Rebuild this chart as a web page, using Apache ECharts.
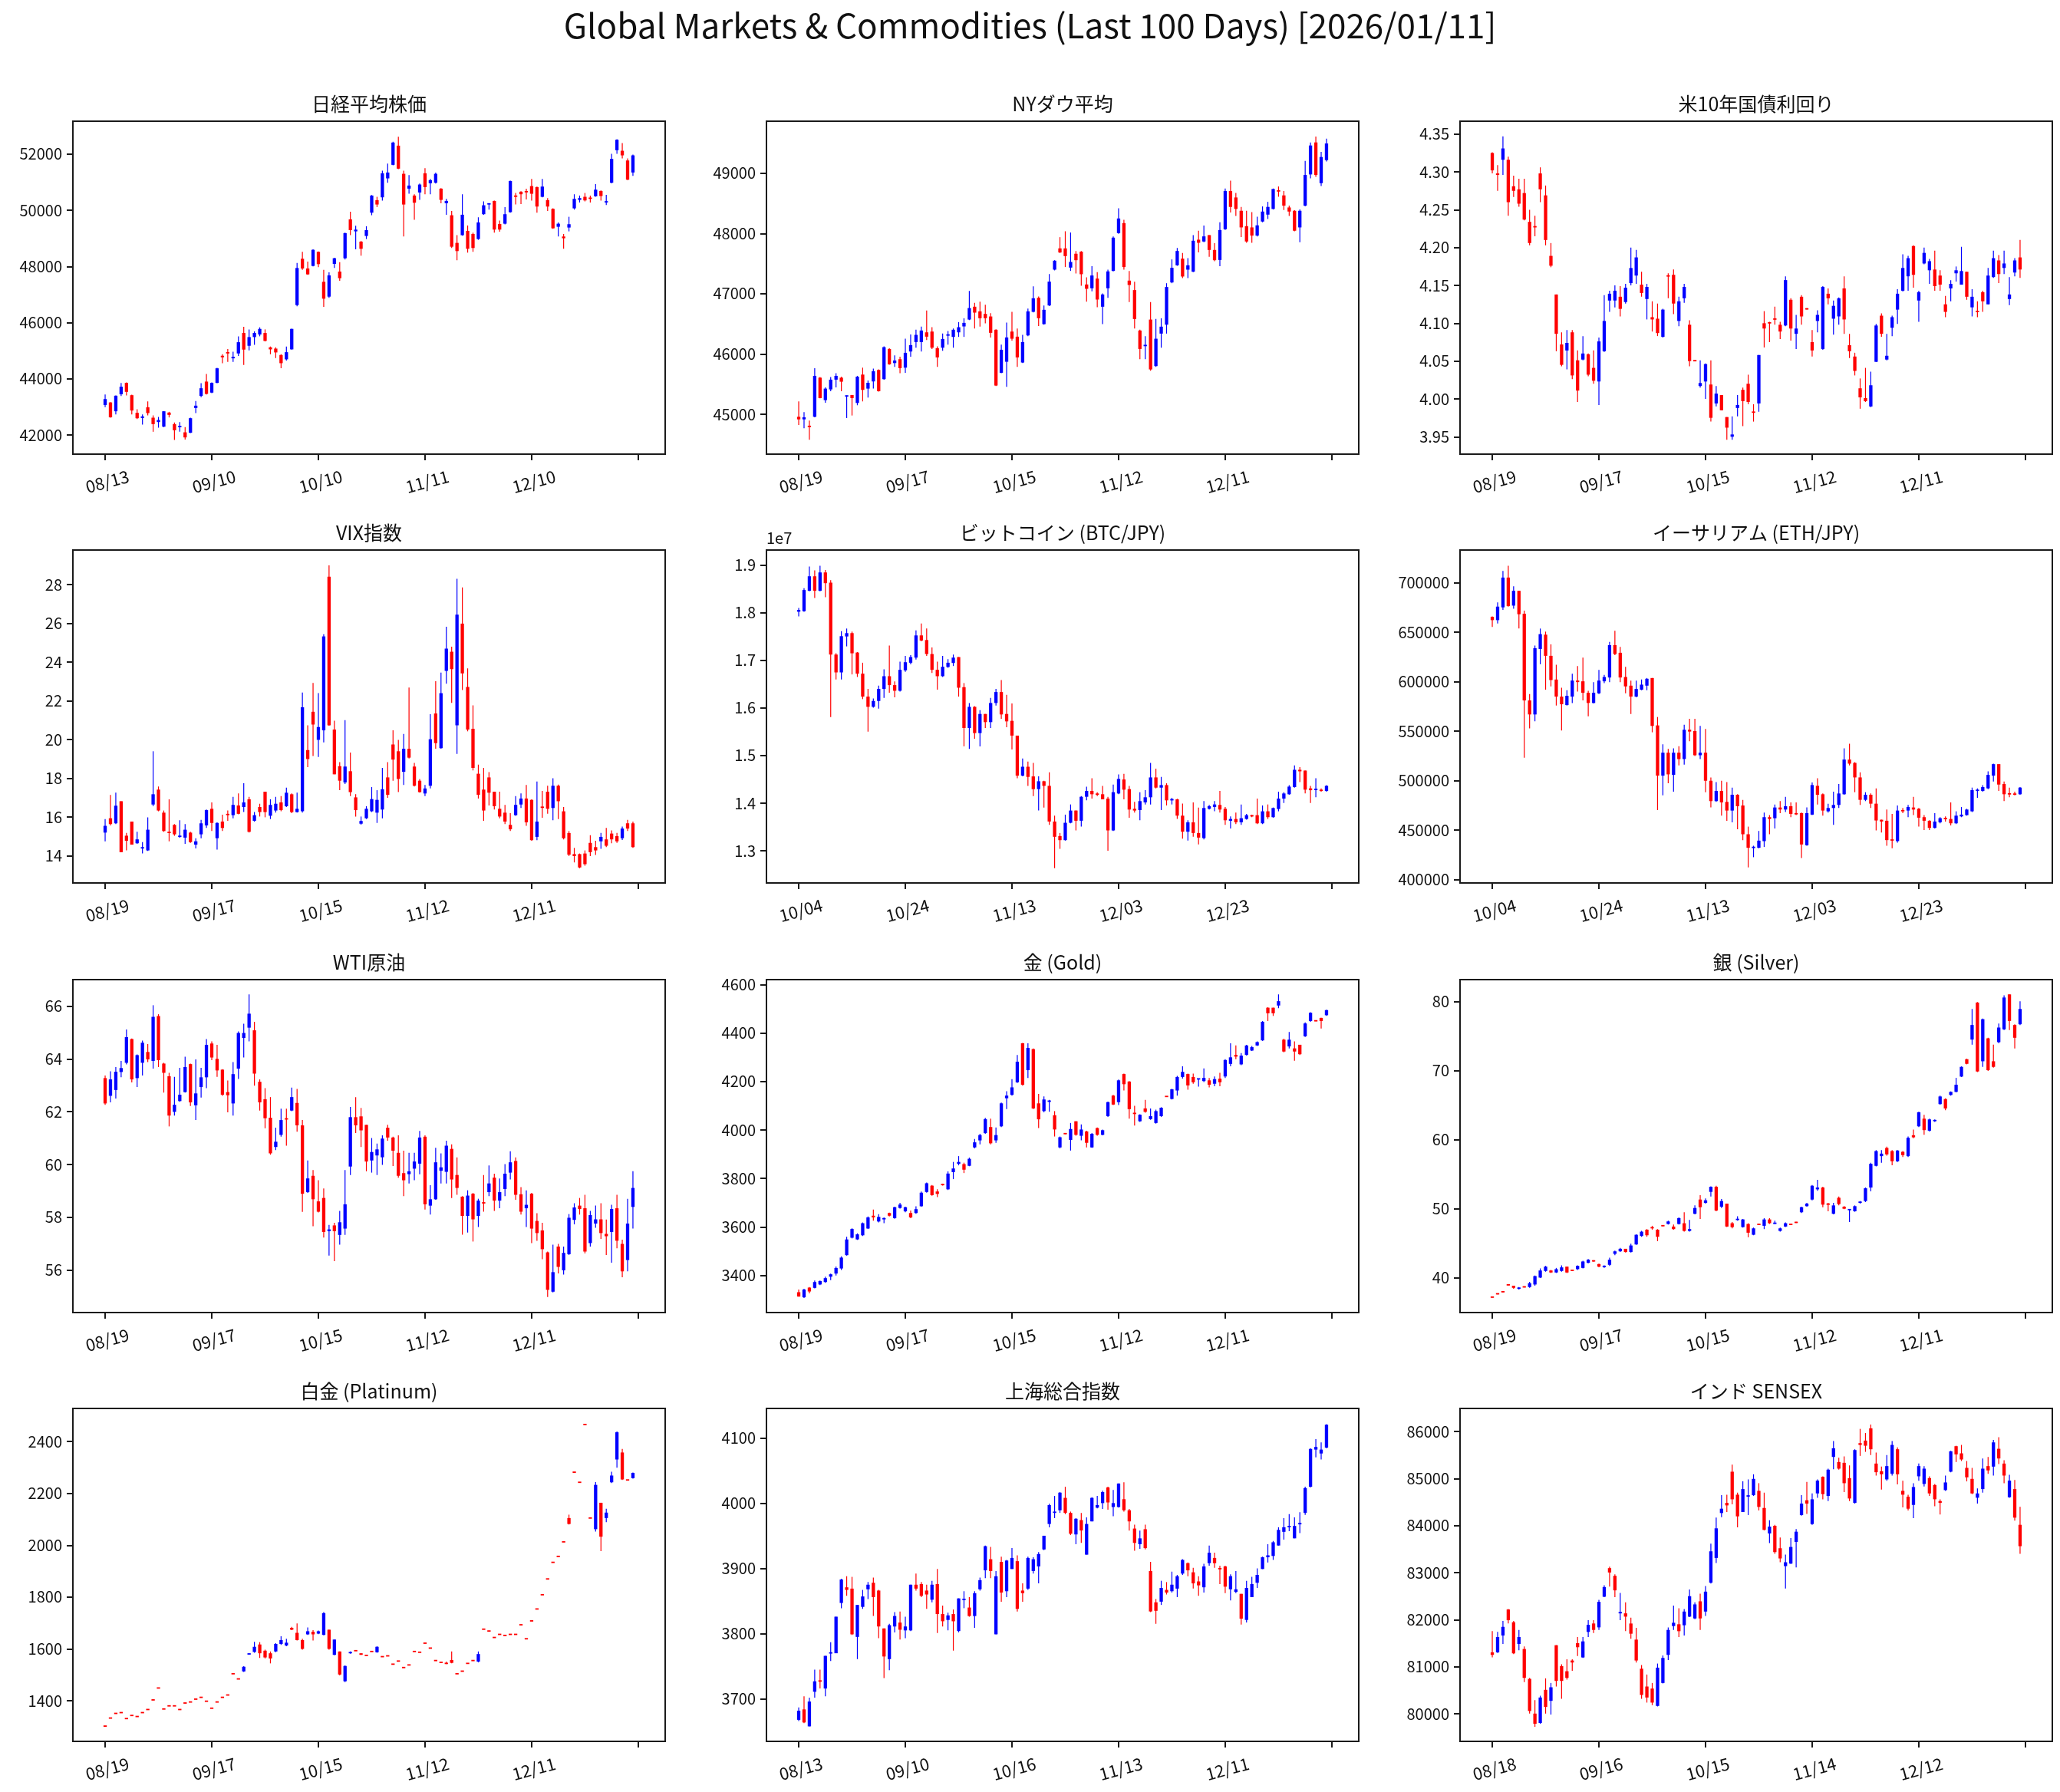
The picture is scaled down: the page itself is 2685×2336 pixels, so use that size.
<!DOCTYPE html>
<html><head><meta charset="utf-8">
<script src="https://cdn.jsdelivr.net/npm/echarts@6/dist/echarts.min.js"></script>
<style>html,body{margin:0;padding:0;background:#fff}#c{width:2685px;height:2336px}</style>
</head><body><div id="c"></div>
<script>
// ---------- DATA (each row: [Open, High, Low, Close]) ----------
const nikkeiOHLC = [
[43070,43440,42990,43280],[43160,43170,42620,42630],[42845,43410,42735,43400],[43450,43850,43390,43720],[43856,43875,43409,43537],
[43418,43437,42735,42872],[42790,42918,42571,42598],[42608,42735,42371,42663],[42990,43200,42699,42781],[42617,42699,42116,42389],
[42462,42644,42262,42535],[42298,42850,42280,42845],[42800,42826,42626,42717],[42389,42444,41824,42170],[42280,42462,42116,42325],
[42097,42280,41842,41915],[42080,42617,42070,42599],[42963,43210,42781,43045],[43391,43847,43346,43665],[43902,44175,43446,43464],
[43510,43875,43491,43856],[43856,44393,43847,44375],[44822,44876,44557,44767],[44950,45058,44603,44904],[44730,44968,44603,44785],
[44904,45514,44812,45304],[45632,45851,44493,45040],[45177,45760,45013,45486],[45486,45687,45213,45632],[45578,45833,45514,45778],
[45632,45760,45331,45350],[45122,45150,44876,45049],[45076,45122,44739,44940],[44849,44876,44375,44557],[44694,45150,44648,44949],
[45049,45787,45040,45778],[46625,48128,46580,47946],[48274,48520,47882,47928],[47928,48174,47700,47718],[48019,48611,48001,48593],
[48520,48538,47973,48083],[47454,47882,46561,46853],[46926,47791,46880,47682],[48092,48310,47946,48292],[47818,48156,47491,47582],
[48292,49203,48247,49185],[49677,49950,49112,49294],[49249,49449,48611,49312],[48884,48912,48383,48629],[49085,49431,48975,49294],
[49914,50542,49823,50524],[50360,50479,50114,50205],[50460,51408,50342,51317],[51135,51663,50980,51344],[51617,52437,51599,52410],
[52300,52620,51463,51481],[51298,51408,49067,50205],[50770,51253,50588,50880],[50524,50570,49659,50269],[50633,50952,50369,50916],
[51317,51499,50570,50825],[50961,51116,50570,51071],[50980,51344,50952,51298],[50770,50788,50251,50369],[50251,50406,49841,50333],
[49823,49978,48657,48702],[48839,49112,48219,48547],[49112,50570,49094,49841],[49267,49458,48492,48629],[49158,49203,48520,48657],
[48975,49750,48948,49568],[49860,50315,49841,50178],[50205,50251,50023,50251],[50333,50342,49203,49312],[49513,49631,49240,49312],
[49522,50114,49495,49860],[49932,51052,49914,51043],[50524,50615,50205,50479],[50661,50679,50224,50570],[50679,50770,50388,50643],
[50861,51116,50342,50588],[50825,50843,49914,50132],[50479,51116,50460,50843],[50360,50433,49978,50132],[50050,50068,49340,49358],
[49413,49568,49067,49522],[49067,49158,48629,49003],[49385,49768,49249,49504],[50068,50570,50023,50406],[50369,50524,50278,50433],
[50479,50615,50315,50351],[50451,50524,50278,50406],[50497,50934,50479,50734],[50688,50706,50342,50506],[50278,50552,50187,50324],
[50980,52009,50961,51827],[52137,52528,52009,52510],[52118,52392,51845,51954],[51772,51845,51071,51089],[51344,51982,51226,51954]];

const dowOHLC = [
[44958,45213,44822,44915],[44915,45034,44767,44949],[44809,44894,44576,44788],[44958,45765,44949,45637],[45607,45616,45264,45268],
[45234,45446,45191,45425],[45412,45616,45382,45574],[45574,45680,45446,45637],[45607,45624,45382,45540],[45302,45310,44937,45306],
[45319,45319,44979,45268],[45187,45637,45149,45624],[45658,45773,45213,45404],[45425,45561,45276,45522],[45544,45756,45425,45714],
[45735,45744,45374,45382],[45582,46126,45574,46113],[46083,46096,45820,45828],[45849,45977,45786,45892],[45913,45956,45680,45765],
[45773,46253,45688,46019],[46041,46325,45956,46147],[46198,46402,46104,46317],[46198,46453,46041,46389],[46359,46720,46232,46287],
[46372,46444,46083,46104],[46096,46126,45786,45943],[46104,46338,46053,46249],[46304,46380,46155,46325],[46283,46423,46104,46402],
[46359,46529,46283,46444],[46457,46593,46283,46516],[46571,47047,46563,46762],[46784,46848,46423,46686],[46707,46869,46453,46593],
[46665,46818,46508,46593],[46622,46677,46274,46351],[46402,46410,45467,45476],[45688,46155,45680,46070],[45871,46520,45455,46274],
[46372,46699,46223,46253],[46287,46423,45786,45943],[45858,46317,45849,46198],[46308,46754,46296,46707],[46699,47123,46690,46924],
[46932,46953,46465,46593],[46495,46805,46486,46733],[46805,47327,46796,47200],[47399,47556,47387,47548],[47752,47938,47675,47684],
[47752,48036,47442,47624],[47433,48015,47378,47527],[47663,47709,47336,47556],[47697,47709,47132,47323],[47153,47272,46869,47081],
[47090,47455,47038,47302],[47251,47357,46775,46903],[46784,47004,46495,46987],[47090,47399,46932,47370],[47378,47951,47370,47930],
[48006,48418,47993,48248],[48172,48227,47399,47442],[47217,47378,46860,47145],[47060,47200,46423,46580],[46389,46402,45913,46083],
[46134,46296,45913,46147],[46571,46860,45722,45743],[45799,46580,45786,46253],[46338,46593,46104,46453],[46486,47174,46338,47111],
[47187,47569,47174,47429],[47471,47760,47463,47709],[47582,47675,47259,47285],[47399,47590,47259,47471],[47365,47972,47357,47879],
[47896,48044,47684,47845],[47866,48130,47854,47951],[47972,47972,47612,47726],[47726,47837,47539,47556],[47560,48185,47455,48057],
[48070,48745,48057,48703],[48703,48877,48346,48440],[48597,48673,48291,48406],[48376,48440,47939,48100],[48121,48376,47845,47866],
[48100,48355,47845,47964],[47964,48278,47951,48134],[48197,48448,48185,48363],[48312,48524,48240,48440],[48406,48745,48397,48737],
[48716,48779,48609,48694],[48631,48703,48389,48461],[48431,48461,48291,48363],[48376,48384,48036,48045],[48100,48397,47854,48376],
[48461,49204,48448,48970],[48979,49510,48915,49459],[49510,49607,48940,48970],[48834,49352,48788,49268],[49217,49573,49195,49493]];

const us10yOHLC = [
[4.325,4.326,4.298,4.302],[4.298,4.309,4.275,4.296],[4.316,4.347,4.296,4.331],[4.316,4.320,4.242,4.260],[4.281,4.295,4.267,4.275],
[4.277,4.291,4.254,4.258],[4.272,4.291,4.236,4.237],[4.234,4.250,4.203,4.206],[4.228,4.242,4.215,4.227],[4.298,4.306,4.260,4.277],
[4.269,4.282,4.203,4.210],[4.189,4.206,4.174,4.176],[4.138,4.138,4.063,4.086],[4.072,4.088,4.043,4.045],[4.064,4.091,4.039,4.074],
[4.088,4.091,4.026,4.031],[4.051,4.064,3.996,4.011],[4.052,4.083,4.051,4.060],[4.059,4.060,4.030,4.032],[4.041,4.064,4.020,4.024],
[4.023,4.081,3.992,4.076],[4.063,4.137,4.062,4.103],[4.130,4.143,4.115,4.139],[4.130,4.150,4.121,4.143],[4.135,4.149,4.109,4.119],
[4.128,4.152,4.126,4.147],[4.153,4.200,4.150,4.173],[4.163,4.197,4.152,4.187],[4.151,4.168,4.135,4.140],[4.132,4.152,4.105,4.148],
[4.108,4.129,4.089,4.105],[4.106,4.126,4.083,4.087],[4.082,4.119,4.081,4.118],[4.163,4.166,4.133,4.162],[4.164,4.171,4.112,4.126],
[4.103,4.135,4.096,4.129],[4.133,4.152,4.127,4.148],[4.098,4.104,4.043,4.050],[4.051,4.051,4.050,4.050],[4.017,4.051,4.015,4.021],
[4.023,4.047,4.000,4.046],[4.019,4.051,3.970,3.975],[3.994,4.017,3.990,4.007],[4.005,4.005,3.985,3.985],[3.976,3.976,3.946,3.962],
[3.950,3.977,3.946,3.953],[3.988,4.005,3.977,3.992],[4.012,4.015,3.964,3.997],[4.020,4.032,3.993,3.996],[3.983,3.993,3.970,3.982],
[3.994,4.058,3.983,4.058],[4.100,4.116,4.068,4.093],[4.101,4.102,4.075,4.100],[4.106,4.122,4.098,4.105],[4.098,4.102,4.079,4.089],
[4.097,4.162,4.096,4.157],[4.131,4.133,4.077,4.093],[4.086,4.111,4.066,4.093],[4.135,4.137,4.098,4.109],[4.119,4.120,4.118,4.119],
[4.075,4.091,4.056,4.064],[4.103,4.117,4.088,4.111],[4.066,4.149,4.065,4.148],[4.139,4.146,4.125,4.133],[4.106,4.130,4.085,4.123],
[4.109,4.134,4.098,4.133],[4.146,4.162,4.086,4.105],[4.071,4.086,4.054,4.063],[4.056,4.061,4.031,4.037],[4.014,4.027,3.987,4.002],
[4.001,4.041,3.996,3.997],[3.990,4.036,3.989,4.018],[4.049,4.099,4.049,4.097],[4.110,4.113,4.082,4.086],[4.052,4.086,4.051,4.057],
[4.094,4.110,4.083,4.108],[4.118,4.145,4.099,4.139],[4.143,4.191,4.142,4.173],[4.162,4.189,4.143,4.186],[4.202,4.203,4.147,4.164],
[4.130,4.143,4.102,4.141],[4.179,4.200,4.178,4.193],[4.170,4.185,4.152,4.182],[4.171,4.196,4.143,4.149],[4.163,4.170,4.143,4.151],
[4.125,4.136,4.108,4.115],[4.146,4.157,4.129,4.152],[4.166,4.175,4.155,4.170],[4.151,4.201,4.151,4.169],[4.168,4.168,4.131,4.135],
[4.121,4.145,4.109,4.135],[4.116,4.129,4.108,4.115],[4.141,4.143,4.115,4.129],[4.125,4.173,4.125,4.163],[4.161,4.196,4.160,4.186],
[4.183,4.190,4.153,4.165],[4.173,4.196,4.165,4.179],[4.132,4.161,4.124,4.138],[4.167,4.186,4.162,4.183],[4.187,4.210,4.160,4.171]];

const vixOHLC = [
[15.19,15.89,14.74,15.54],[15.93,17.14,15.56,15.63],[15.67,17.25,15.63,16.58],[16.81,16.81,14.18,14.18],[15.03,15.17,14.27,14.77],
[15.76,15.76,14.57,14.57],[14.64,15.23,14.61,14.84],[14.37,14.70,14.11,14.44],[14.27,15.98,14.24,15.34],[16.64,19.39,16.55,17.17],
[17.41,17.57,16.29,16.33],[16.22,16.33,15.23,15.27],[15.23,16.91,14.74,15.17],[15.59,15.63,15.03,15.10],[14.97,15.83,14.93,15.03],
[14.93,15.63,14.61,15.34],[15.19,15.23,14.66,14.70],[14.57,14.90,14.37,14.74],[15.10,15.85,14.90,15.67],[15.56,16.38,15.43,16.35],
[16.42,16.75,15.27,15.69],[14.90,15.72,14.31,15.69],[15.76,16.12,15.27,15.43],[16.16,16.33,15.80,16.09],[16.09,17.04,15.93,16.62],
[16.59,17.21,16.13,16.16],[16.51,17.74,16.25,16.75],[16.91,17.04,15.19,15.23],[15.80,16.25,15.76,16.09],[16.51,16.68,16.02,16.25],
[17.30,17.30,15.98,16.25],[16.06,16.91,15.89,16.62],[16.33,17.04,16.22,16.68],[16.75,17.08,16.29,16.35],[16.55,17.51,16.51,17.25],
[17.17,17.21,16.19,16.25],[16.25,17.25,16.22,16.42],[16.29,22.42,16.22,21.66],[19.45,20.73,18.57,18.99],[21.43,22.92,19.15,20.77],
[19.98,22.39,19.10,20.64],[20.47,25.43,19.85,25.32],[28.40,28.99,20.71,20.73],[20.51,20.97,18.20,18.20],[18.62,18.83,17.38,17.87],
[17.78,21.00,17.70,18.60],[18.36,19.32,17.08,17.28],[17.01,17.17,16.02,16.35],[15.65,16.02,15.60,15.79],[15.93,16.55,15.89,16.42],
[16.29,17.54,16.25,16.92],[16.22,17.38,15.69,16.88],[16.38,18.53,15.93,17.43],[18.04,18.83,16.99,17.14],[19.74,20.47,17.87,18.96],
[19.39,19.98,17.28,17.96],[18.33,20.28,17.65,19.52],[19.52,22.68,19.02,19.06],[18.60,18.79,17.57,17.61],[17.87,17.96,17.25,17.28],
[17.21,17.65,17.08,17.47],[17.61,21.30,17.47,20.01],[21.34,23.01,19.52,19.81],[19.55,23.45,19.52,22.39],[23.54,25.82,22.88,24.69],
[24.53,24.79,21.89,23.63],[20.73,28.29,19.25,26.44],[25.98,27.85,22.55,23.41],[22.71,23.67,20.42,20.51],[20.55,21.76,18.40,18.53],
[18.23,18.70,16.95,17.14],[17.41,18.53,15.80,16.33],[18.04,18.31,16.59,17.25],[17.30,17.30,16.38,16.55],[16.42,17.30,15.93,16.02],
[16.22,16.62,15.63,15.76],[15.59,16.19,15.27,15.36],[16.09,17.08,16.06,16.62],[16.64,17.21,16.46,16.95],[16.95,17.65,15.54,15.72],
[16.88,16.91,14.77,14.80],[14.97,17.83,14.80,15.76],[16.51,17.34,15.96,16.49],[17.30,17.61,16.16,16.42],[16.46,18.00,15.83,17.61],
[17.61,17.67,15.89,16.81],[16.29,16.51,14.84,14.90],[15.17,15.27,13.98,14.05],[14.08,14.40,13.65,13.98],[14.08,14.11,13.35,13.39],
[14.11,14.27,13.48,13.56],[14.66,15.06,13.98,14.18],[14.44,14.77,14.04,14.27],[14.74,15.17,14.35,14.97],[14.84,15.43,14.44,14.51],
[15.14,15.30,14.64,14.84],[15.01,15.17,14.66,14.74],[14.90,15.50,14.81,15.40],[15.67,15.85,15.27,15.40],[15.67,15.76,14.40,14.44]];

const btcOHLC = [
[1.8016e7,1.8096e7,1.7920e7,1.8053e7],[1.8027e7,1.8508e7,1.8016e7,1.8471e7],[1.8455e7,1.8963e7,1.8444e7,1.8759e7],[1.8759e7,1.8882e7,1.8305e7,1.8455e7],[1.8455e7,1.8979e7,1.8444e7,1.8840e7],
[1.8840e7,1.8893e7,1.8321e7,1.8615e7],[1.8626e7,1.8679e7,1.5807e7,1.7117e7],[1.7117e7,1.7144e7,1.6593e7,1.6743e7],[1.6743e7,1.7610e7,1.6593e7,1.7503e7],[1.7497e7,1.7663e7,1.7289e7,1.7567e7],
[1.7567e7,1.7599e7,1.6700e7,1.7144e7],[1.7160e7,1.7171e7,1.6647e7,1.6716e7],[1.6716e7,1.6946e7,1.6182e7,1.6235e7],[1.6235e7,1.6396e7,1.5502e7,1.6021e7],[1.6021e7,1.6198e7,1.6005e7,1.6144e7],
[1.6144e7,1.6465e7,1.5984e7,1.6396e7],[1.6396e7,1.6807e7,1.6208e7,1.6663e7],[1.6663e7,1.7305e7,1.6315e7,1.6476e7],[1.6476e7,1.6556e7,1.6219e7,1.6358e7],[1.6358e7,1.6968e7,1.6342e7,1.6797e7],
[1.6786e7,1.7091e7,1.6754e7,1.6957e7],[1.6946e7,1.7107e7,1.6914e7,1.7064e7],[1.7053e7,1.7626e7,1.7011e7,1.7519e7],[1.7519e7,1.7770e7,1.7396e7,1.7412e7],[1.7422e7,1.7663e7,1.7091e7,1.7128e7],
[1.7128e7,1.7267e7,1.6732e7,1.6797e7],[1.6797e7,1.6968e7,1.6380e7,1.6663e7],[1.6663e7,1.7091e7,1.6647e7,1.6861e7],[1.6856e7,1.7021e7,1.6839e7,1.6946e7],[1.6941e7,1.7117e7,1.6877e7,1.7053e7],
[1.7064e7,1.7064e7,1.6235e7,1.6422e7],[1.6433e7,1.6519e7,1.5192e7,1.5577e7],[1.5577e7,1.6101e7,1.5139e7,1.6021e7],[1.6021e7,1.6037e7,1.5353e7,1.5470e7],[1.5470e7,1.5952e7,1.5192e7,1.5871e7],
[1.5871e7,1.5871e7,1.5577e7,1.5700e7],[1.5700e7,1.6208e7,1.5577e7,1.6101e7],[1.6101e7,1.6396e7,1.6048e7,1.6331e7],[1.6331e7,1.6583e7,1.5770e7,1.5861e7],[1.5871e7,1.6273e7,1.5593e7,1.5716e7],
[1.5727e7,1.6091e7,1.5128e7,1.5417e7],[1.5417e7,1.5417e7,1.4524e7,1.4577e7],[1.4577e7,1.4936e7,1.4561e7,1.4764e7],[1.4764e7,1.4871e7,1.4363e7,1.4551e7],[1.4561e7,1.4845e7,1.4149e7,1.4294e7],
[1.4294e7,1.4561e7,1.3845e7,1.4460e7],[1.4460e7,1.4470e7,1.3909e7,1.4363e7],[1.4363e7,1.4647e7,1.3545e7,1.3615e7],[1.3615e7,1.3738e7,1.2636e7,1.3294e7],[1.3310e7,1.3374e7,1.3042e7,1.3224e7],
[1.3224e7,1.3759e7,1.3214e7,1.3588e7],[1.3588e7,1.3973e7,1.3577e7,1.3845e7],[1.3845e7,1.3845e7,1.3428e7,1.3631e7],[1.3631e7,1.4149e7,1.3508e7,1.4134e7],[1.4134e7,1.4347e7,1.4059e7,1.4256e7],
[1.4256e7,1.4524e7,1.4096e7,1.4187e7],[1.4203e7,1.4230e7,1.4149e7,1.4176e7],[1.4187e7,1.4363e7,1.4080e7,1.4080e7],[1.4096e7,1.4134e7,1.3000e7,1.3428e7],[1.3428e7,1.4390e7,1.3417e7,1.4230e7],
[1.4203e7,1.4604e7,1.4187e7,1.4508e7],[1.4497e7,1.4615e7,1.4080e7,1.4283e7],[1.4294e7,1.4363e7,1.3695e7,1.3866e7],[1.3882e7,1.4027e7,1.3802e7,1.3845e7],[1.3855e7,1.4230e7,1.3641e7,1.4043e7],
[1.4016e7,1.4272e7,1.3973e7,1.4123e7],[1.4123e7,1.4845e7,1.3973e7,1.4540e7],[1.4540e7,1.4722e7,1.4310e7,1.4326e7],[1.4326e7,1.4551e7,1.3855e7,1.4379e7],[1.4379e7,1.4417e7,1.3952e7,1.4059e7],
[1.4064e7,1.4112e7,1.3973e7,1.4080e7],[1.4080e7,1.4091e7,1.3668e7,1.3738e7],[1.3738e7,1.3990e7,1.3256e7,1.3401e7],[1.3401e7,1.3641e7,1.3214e7,1.3598e7],[1.3598e7,1.4016e7,1.3294e7,1.3374e7],
[1.3374e7,1.3909e7,1.3133e7,1.3278e7],[1.3267e7,1.4043e7,1.3240e7,1.3898e7],[1.3882e7,1.3962e7,1.3866e7,1.3936e7],[1.3920e7,1.4043e7,1.3829e7,1.3973e7],[1.3963e7,1.4256e7,1.3802e7,1.3866e7],
[1.3882e7,1.3920e7,1.3545e7,1.3641e7],[1.3631e7,1.3722e7,1.3470e7,1.3668e7],[1.3668e7,1.3802e7,1.3561e7,1.3599e7],[1.3599e7,1.3973e7,1.3545e7,1.3684e7],[1.3668e7,1.3775e7,1.3652e7,1.3748e7],
[1.3748e7,1.3759e7,1.3706e7,1.3722e7],[1.3748e7,1.4096e7,1.3561e7,1.3577e7],[1.3577e7,1.3952e7,1.3561e7,1.3829e7],[1.3829e7,1.3973e7,1.3668e7,1.3706e7],[1.3706e7,1.3909e7,1.3695e7,1.3898e7],
[1.3877e7,1.4240e7,1.3829e7,1.4096e7],[1.4096e7,1.4230e7,1.4005e7,1.4203e7],[1.4187e7,1.4379e7,1.4176e7,1.4347e7],[1.4337e7,1.4791e7,1.4326e7,1.4700e7],[1.4700e7,1.4754e7,1.4444e7,1.4668e7],
[1.4684e7,1.4684e7,1.4203e7,1.4283e7],[1.4310e7,1.4363e7,1.4005e7,1.4272e7],[1.4283e7,1.4524e7,1.4123e7,1.4294e7],[1.4283e7,1.4310e7,1.4240e7,1.4256e7],[1.4256e7,1.4379e7,1.4240e7,1.4363e7]];

const ethOHLC = [
[665500,666010,655200,662150],[662150,680170,658800,675800],[675020,711850,672450,705150],[705150,716990,675790,676310],[676820,696390,673730,691760],
[691760,691760,653650,668070],[668580,671680,523100,581040],[581040,587480,552710,566870],[566870,636400,559920,633820],[633050,653650,617600,647990],
[647470,650560,591850,626100],[626100,637680,595200,601640],[602150,617090,575890,584900],[584900,593910,550650,577170],[576400,591330,575890,585670],
[584900,608070,578460,601120],[601120,615800,590050,599570],[600350,624300,581040,588760],[588760,590820,565070,578460],[578460,599570,577950,588760],
[588240,611930,587480,601120],[600350,606780,598540,604720],[604210,640260,599570,636920],[636920,651330,626870,627900],[629190,635110,599570,604210],
[604720,615030,588240,595200],[595970,601120,567390,584900],[584900,601120,584130,592620],[591850,602150,591330,597000],[595970,603690,591330,602920],
[603690,603690,548850,555290],[555800,564300,470300,505070],[505070,536740,485240,528240],[528240,532110,497340,506360],[505840,532630,488850,528240],
[528240,534690,515370,521810],[521810,556570,516140,551420],[551420,562500,539840,549620],[550140,562500,524900,525670],[525670,555290,521810,528240],
[528240,552190,488330,499930],[499930,503270,472890,479330],[479330,498640,478550,489630],[489630,499930,464650,478030],[478550,498640,459500,469790],
[469790,492980,457950,485760],[485760,486270,450980,474170],[474940,480610,439930,445850],[445850,453560,412380,432200],[432200,434270,422680,432980],
[432200,449200,431690,439410],[438900,467740,432980,463100],[463100,465170,445850,461300],[462070,475970,451760,472890],[472890,479330,467220,470830],
[470830,483700,468250,474170],[474170,478030,463100,466450],[467220,478030,465170,465940],[467220,467740,421900,435550],[434780,472890,434270,467220],
[465680,498120,465170,495550],[494770,502500,475970,485760],[486270,487050,464650,469790],[469020,476750,467730,472370],[472370,488850,455380,475460],
[475460,496580,472370,487050],[486270,532630,485760,521290],[521290,537260,515370,517170],[517950,518720,488330,503270],[503270,508420,475460,480610],
[480610,488330,479330,485760],[485760,487050,472370,476750],[476750,492210,449710,459760],[460530,460530,447650,458720],[459500,470830,434270,439930],
[440700,466450,431690,439410],[438900,474940,437350,469790],[470300,472370,467220,469020],[469790,475460,463100,473400],[472890,483700,465170,470830],
[471600,472370,453560,462590],[463100,465170,450210,459500],[459500,460020,450210,452280],[452280,467220,451760,458720],[457950,463100,456920,462070],
[462070,463870,458720,461300],[461300,478030,454860,456920],[456920,469020,456150,464650],[463870,473400,463100,465680],[465170,471600,464650,470830],
[469020,492980,468250,490400],[489630,492210,482670,490910],[489630,495550,488850,493490],[492210,509450,491430,505840],[505070,517170,499160,516660],
[516660,516660,489630,496060],[496580,499160,479330,486270],[487050,492980,483180,486270],[487050,488850,485240,485760],[486270,493490,485760,492980]];

const wtiOHLC = [
[63.27,63.37,62.26,62.31],[62.60,63.53,62.35,63.22],[62.82,63.69,62.50,63.51],[63.50,63.92,63.30,63.65],[63.85,65.11,63.79,64.82],
[64.75,64.77,63.11,63.22],[63.27,64.17,62.93,64.14],[63.85,64.69,63.37,64.61],[64.26,64.56,63.88,63.98],[63.92,66.03,63.63,65.59],
[65.62,65.69,63.69,63.95],[63.82,63.85,62.72,63.47],[63.34,63.47,61.44,61.85],[61.99,63.32,61.85,62.26],[62.40,63.66,62.37,62.64],
[62.74,64.08,62.72,63.69],[63.80,63.82,62.21,62.35],[62.24,63.98,61.68,62.69],[62.93,63.66,62.53,63.30],[63.30,64.75,62.89,64.53],
[64.58,64.66,63.95,64.05],[64.00,64.53,63.32,63.56],[63.59,63.61,62.60,62.64],[62.74,63.18,61.97,62.62],[62.31,63.88,61.85,63.42],
[63.63,65.04,63.24,64.98],[64.79,65.33,64.05,64.98],[65.18,66.44,64.66,65.71],[65.08,65.40,62.98,63.44],[63.13,63.22,62.04,62.35],
[62.47,62.89,61.37,61.75],[61.77,62.55,60.37,60.42],[60.66,61.39,60.54,60.86],[61.12,62.11,61.05,61.68],[61.74,62.11,60.71,61.71],
[62.04,62.91,62.02,62.55],[62.33,62.86,61.24,61.48],[61.48,61.68,58.20,58.89],[58.95,60.15,58.92,59.47],[59.57,59.79,57.66,58.68],
[58.60,59.40,58.18,58.21],[58.73,59.09,57.23,57.44],[57.47,57.71,56.55,57.54],[57.69,57.79,56.34,57.47],[57.33,58.24,56.96,57.81],
[57.57,59.79,57.33,58.49],[59.92,62.18,59.60,61.79],[61.79,62.55,61.19,61.48],[61.82,62.14,60.66,61.29],[61.50,61.50,59.74,60.11],
[60.15,61.00,59.69,60.47],[60.34,60.79,59.60,60.57],[60.27,61.10,59.98,60.98],[61.39,61.50,60.90,61.02],[61.02,61.05,59.94,60.52],
[60.44,61.10,59.50,59.57],[59.67,60.52,58.80,59.40],[59.63,60.44,59.28,59.74],[59.84,60.44,59.40,60.11],[60.03,61.27,59.63,61.02],
[61.05,61.10,58.29,58.49],[58.44,59.21,58.10,58.68],[58.68,60.63,58.66,60.08],[59.76,60.42,59.28,59.89],[59.72,60.90,59.28,60.71],
[60.59,60.76,58.73,59.43],[59.60,60.27,58.85,59.11],[58.78,58.80,57.34,58.05],[58.05,59.02,57.42,58.82],[58.89,58.92,57.08,57.92],
[58.05,58.70,57.63,58.63],[58.56,59.60,58.21,58.53],[58.95,59.96,58.80,59.28],[59.50,59.65,58.24,58.63],[58.63,59.47,58.34,58.95],
[59.07,60.01,58.80,59.65],[59.69,60.50,59.43,60.08],[60.13,60.27,58.66,58.85],[58.87,59.14,58.10,58.21],[58.34,59.02,57.63,58.47],
[58.89,58.92,57.02,57.57],[57.86,58.15,57.11,57.40],[57.50,57.79,56.41,56.79],[56.67,56.70,54.98,55.25],[55.18,56.96,55.15,55.92],
[56.89,56.99,55.87,56.12],[55.99,56.89,55.83,56.65],[56.60,58.12,56.57,57.98],[57.90,58.53,57.73,58.37],[58.44,58.73,58.10,58.31],
[58.34,58.85,56.63,56.70],[57.02,58.24,56.89,58.08],[57.76,58.44,57.60,57.92],[57.92,58.53,57.18,57.40],[57.37,57.91,56.57,57.28],
[57.44,58.47,56.28,58.31],[58.34,58.85,56.82,57.11],[56.99,57.15,55.73,55.95],[56.38,58.70,55.95,57.76],[58.39,59.74,57.57,59.11]];

const goldOHLC = [
[3330,3341,3312,3312],[3309,3344,3306,3341],[3349,3351,3325,3333],[3348,3378,3346,3372],[3362,3378,3359,3376],
[3372,3394,3369,3388],[3394,3407,3380,3404],[3407,3436,3399,3430],[3428,3478,3422,3473],[3483,3559,3481,3548],
[3555,3594,3552,3591],[3548,3573,3546,3569],[3565,3618,3562,3615],[3593,3643,3591,3639],[3646,3671,3625,3639],
[3622,3652,3618,3641],[3631,3639,3615,3636],[3657,3659,3643,3646],[3636,3683,3633,3681],[3678,3699,3675,3692],
[3664,3683,3660,3681],[3657,3667,3636,3639],[3657,3685,3654,3673],[3685,3746,3683,3741],[3744,3783,3741,3780],
[3770,3773,3728,3731],[3746,3755,3723,3736],[3776,3778,3770,3773],[3755,3829,3752,3820],[3826,3868,3797,3841],
[3860,3892,3854,3868],[3859,3865,3822,3836],[3852,3886,3850,3881],[3928,3963,3924,3949],[3957,3984,3941,3979],
[3987,4050,3984,4045],[4012,4047,3941,3945],[3957,4010,3947,3979],[4015,4113,4012,4110],[4131,4160,4086,4142],
[4145,4210,4142,4176],[4197,4310,4194,4282],[4358,4360,4183,4187],[4247,4358,4215,4339],[4334,4337,4086,4089],
[4110,4149,4008,4044],[4078,4139,4073,4126],[4117,4124,4075,4121],[4061,4078,3973,4002],[3928,3973,3924,3970],
[3986,3986,3983,3984],[3959,4029,3915,4004],[4036,4036,3976,3980],[3976,4023,3957,4002],[3994,3997,3928,3947],
[3928,3987,3926,3984],[4008,4010,3976,3980],[3980,4002,3978,3999],[4057,4117,4054,4115],[4142,4145,4103,4105],
[4115,4208,4103,4205],[4231,4233,4163,4189],[4200,4202,4047,4086],[4070,4100,4018,4067],[4036,4065,4033,4063],
[4089,4124,4071,4075],[4045,4089,4042,4057],[4029,4084,4026,4078],[4057,4094,4054,4092],[4139,4139,4137,4138],
[4128,4170,4126,4168],[4163,4223,4142,4219],[4219,4263,4212,4240],[4231,4233,4166,4184],[4219,4233,4191,4197],
[4210,4212,4179,4212],[4202,4254,4198,4215],[4205,4215,4176,4187],[4191,4221,4181,4210],[4212,4236,4181,4197],
[4221,4292,4215,4289],[4273,4358,4263,4300],[4310,4349,4292,4303],[4271,4318,4268,4307],[4310,4352,4307,4349],
[4328,4347,4326,4342],[4349,4366,4347,4363],[4370,4450,4368,4447],[4505,4507,4450,4482],[4505,4505,4471,4482],
[4514,4560,4503,4532],[4373,4377,4321,4324],[4345,4405,4337,4373],[4337,4366,4286,4324],[4352,4352,4310,4313],
[4387,4444,4384,4440],[4450,4486,4447,4484],[4452,4452,4449,4450],[4463,4463,4419,4450],[4474,4497,4471,4495]];

const silverOHLC = [
[37.23,37.25,37.10,37.12],[37.71,37.73,37.58,37.60],[38.00,38.02,37.88,37.90],[39.00,39.02,38.88,38.90],[38.82,38.82,38.38,38.52],
[38.38,38.63,38.27,38.56],[38.71,38.73,38.58,38.60],[38.63,39.37,38.52,39.19],[39.00,40.30,38.82,40.22],[40.00,41.33,39.93,41.03],
[40.96,41.70,40.85,41.59],[41.03,41.11,40.67,40.74],[40.74,41.40,40.67,41.22],[40.96,41.77,40.85,41.48],[41.59,41.59,40.67,40.74],
[41.11,41.13,40.98,41.00],[41.22,41.77,41.11,41.70],[41.40,42.44,41.33,42.33],[42.14,42.70,42.07,42.59],[42.51,42.53,42.31,42.33],
[41.96,42.03,41.48,41.59],[41.55,41.77,41.40,41.70],[41.85,42.88,41.70,42.59],[43.44,43.92,43.25,43.80],[43.81,44.29,43.70,44.17],
[44.17,44.17,43.62,43.70],[43.70,44.91,43.62,44.65],[44.80,46.28,44.73,46.20],[46.02,46.76,45.91,46.65],[46.94,47.02,45.91,46.13],
[47.31,47.50,46.94,47.13],[46.94,47.02,45.28,45.91],[47.57,47.59,47.44,47.46],[47.76,48.24,47.68,48.13],[47.39,47.68,46.94,47.02],
[47.76,48.72,47.68,48.61],[47.87,49.46,46.65,46.76],[46.76,48.35,46.65,47.02],[49.24,50.45,49.16,50.08],[51.30,51.93,48.50,50.19],
[50.82,51.45,50.71,51.19],[52.41,53.22,51.75,53.15],[53.15,53.30,49.60,49.71],[50.27,51.38,50.08,51.08],[50.71,50.71,47.31,47.39],
[47.87,48.05,47.13,47.31],[48.35,48.87,48.24,48.50],[47.31,48.50,47.24,48.42],[47.76,47.87,45.84,46.50],[46.20,47.24,46.13,47.13],
[47.76,47.78,47.63,47.65],[47.50,48.61,47.02,48.42],[48.42,48.61,47.76,47.87],[47.79,48.24,47.76,47.94],[46.76,47.24,46.65,47.13],
[47.39,47.98,47.31,47.87],[47.76,47.78,47.63,47.65],[48.05,48.07,47.92,47.94],[49.46,50.27,49.35,50.19],[50.34,50.82,50.27,50.71],
[51.30,53.41,51.19,53.30],[52.78,54.15,52.56,53.04],[53.04,53.15,50.19,50.56],[50.71,50.82,49.60,50.56],[49.24,50.82,49.16,50.45],
[51.56,51.75,50.45,50.64],[50.27,50.34,49.90,49.97],[49.79,49.90,48.05,49.90],[49.60,50.45,49.53,50.34],[50.82,51.08,50.71,51.01],
[51.08,53.04,50.93,52.93],[53.04,56.62,52.48,56.47],[56.18,58.47,56.10,58.32],[57.58,58.47,56.62,57.95],[58.77,58.95,57.65,57.84],
[58.32,58.47,56.25,56.84],[56.84,58.47,56.73,58.40],[58.21,58.32,57.47,57.73],[57.58,60.43,57.47,60.24],[60.61,61.42,60.17,60.31],
[61.90,64.01,61.79,63.94],[63.01,63.56,60.68,61.35],[61.27,63.01,61.16,62.90],[62.64,62.90,62.53,62.83],[65.12,66.33,65.04,66.22],
[65.85,65.96,64.23,64.49],[66.44,66.96,66.33,66.89],[66.89,68.92,66.81,67.92],[69.10,70.58,69.03,70.51],[71.62,71.69,70.88,70.95],
[74.46,78.89,73.72,76.57],[79.82,79.89,69.77,69.84],[71.32,77.49,70.51,77.41],[74.64,74.72,69.92,70.03],[71.32,73.72,70.40,70.51],
[74.09,76.79,73.91,76.20],[75.94,80.85,75.83,80.55],[81.00,81.00,75.83,77.16],[76.57,76.68,73.17,74.72],[76.68,80.00,76.57,78.89]];

const platinumOHLC = [
[1302,1302,1302,1302],[1333,1333,1333,1333],[1351,1351,1351,1351],[1354,1354,1354,1354],[1331,1331,1331,1331],
[1343,1343,1343,1343],[1339,1339,1339,1339],[1354,1354,1354,1354],[1366,1366,1366,1366],[1403,1403,1403,1403],
[1449,1449,1449,1449],[1368,1368,1368,1368],[1380,1380,1380,1380],[1380,1380,1380,1380],[1366,1366,1366,1366],
[1391,1391,1391,1391],[1395,1395,1395,1395],[1406,1406,1406,1406],[1413,1413,1413,1413],[1398,1398,1398,1398],
[1371,1371,1371,1371],[1395,1395,1395,1395],[1413,1413,1413,1413],[1422,1422,1422,1422],[1504,1504,1504,1504],
[1484,1484,1484,1484],[1513,1533,1511,1531],[1579,1582,1579,1582],[1588,1627,1585,1608],[1617,1626,1565,1583],
[1593,1597,1563,1567],[1583,1590,1544,1563],[1590,1622,1587,1619],[1619,1649,1615,1634],[1613,1639,1610,1624],
[1681,1685,1672,1674],[1662,1698,1632,1634],[1634,1639,1597,1600],[1656,1683,1654,1668],[1666,1672,1632,1656],
[1659,1671,1657,1668],[1654,1742,1652,1738],[1674,1674,1597,1600],[1577,1636,1575,1636],[1590,1590,1498,1501],
[1475,1536,1472,1534],[1583,1590,1581,1588],[1593,1593,1593,1593],[1583,1583,1577,1577],[1575,1575,1575,1575],
[1590,1590,1590,1590],[1587,1610,1585,1608],[1570,1570,1570,1570],[1573,1573,1573,1573],[1541,1541,1541,1541],
[1553,1553,1553,1553],[1528,1528,1528,1528],[1538,1538,1538,1538],[1590,1590,1590,1590],[1587,1587,1587,1587],
[1622,1622,1622,1622],[1603,1603,1603,1603],[1555,1555,1555,1555],[1548,1548,1548,1548],[1545,1551,1541,1543],
[1557,1590,1544,1546],[1504,1504,1504,1504],[1514,1514,1514,1514],[1544,1544,1544,1544],[1555,1555,1555,1555],
[1551,1590,1548,1580],[1676,1676,1676,1676],[1669,1669,1669,1669],[1644,1644,1644,1644],[1656,1656,1656,1656],
[1652,1652,1652,1652],[1656,1656,1656,1656],[1656,1656,1656,1656],[1693,1693,1693,1693],[1639,1639,1639,1639],
[1708,1708,1708,1708],[1754,1754,1754,1754],[1809,1809,1809,1809],[1870,1870,1870,1870],[1934,1934,1934,1934],
[1957,1957,1957,1957],[2013,2013,2013,2013],[2105,2118,2080,2082],[2282,2282,2282,2282],[2243,2243,2243,2243],
[2466,2466,2466,2466],[2105,2105,2105,2105],[2062,2244,2053,2233],[2164,2164,1977,2033],[2105,2141,2089,2126],
[2243,2284,2240,2269],[2331,2439,2299,2436],[2358,2372,2252,2254],[2252,2252,2252,2252],[2259,2281,2257,2279]];

const shanghaiOHLC = [
[3668,3687,3666,3682],[3684,3704,3663,3664],[3658,3702,3658,3696],[3711,3745,3702,3727],[3728,3745,3716,3727],
[3716,3766,3704,3766],[3770,3787,3758,3771],[3770,3826,3770,3826],[3847,3884,3839,3883],[3871,3888,3858,3867],
[3869,3887,3798,3799],[3795,3844,3761,3844],[3841,3867,3838,3857],[3868,3879,3853,3875],[3878,3886,3827,3856],
[3866,3867,3793,3811],[3808,3808,3732,3765],[3761,3815,3744,3813],[3811,3833,3802,3827],[3817,3834,3791,3806],
[3805,3826,3793,3811],[3805,3875,3804,3875],[3875,3892,3866,3869],[3876,3879,3856,3858],[3866,3875,3838,3860],
[3852,3881,3848,3875],[3876,3899,3801,3830],[3830,3843,3811,3819],[3821,3832,3805,3828],[3830,3837,3774,3819],
[3804,3854,3802,3854],[3852,3865,3839,3853],[3840,3856,3826,3827],[3827,3865,3809,3862],[3868,3886,3866,3882],
[3897,3935,3885,3934],[3914,3933,3885,3896],[3799,3896,3799,3888],[3910,3918,3849,3863],[3865,3913,3856,3912],
[3899,3931,3899,3916],[3911,3920,3834,3838],[3866,3877,3849,3862],[3869,3918,3867,3916],[3896,3917,3892,3914],
[3903,3925,3877,3922],[3929,3950,3928,3950],[3968,3999,3963,3997],[3985,4011,3977,3987],[3989,4017,3985,4016],
[4008,4025,3983,3985],[3985,3987,3951,3953],[3952,3977,3937,3976],[3974,3985,3939,3958],[3921,3978,3921,3968],
[3972,4009,3972,4008],[3993,4011,3992,3997],[4000,4019,3991,4017],[4024,4025,3990,4001],[3994,4020,3980,4000],
[3994,4030,3993,4030],[4006,4032,3987,3989],[3989,3991,3958,3972],[3961,3967,3927,3939],[3937,3958,3930,3946],
[3960,3967,3929,3931],[3896,3910,3833,3834],[3848,3853,3815,3835],[3849,3881,3844,3870],[3867,3879,3860,3863],
[3865,3895,3863,3875],[3869,3890,3856,3888],[3892,3914,3890,3913],[3908,3909,3888,3897],[3894,3901,3869,3877],
[3880,3888,3858,3874],[3871,3907,3863,3903],[3908,3935,3904,3924],[3916,3924,3901,3908],[3900,3904,3876,3899],
[3903,3904,3862,3872],[3868,3891,3851,3888],[3864,3896,3862,3868],[3861,3861,3814,3823],[3821,3881,3817,3870],
[3856,3887,3856,3876],[3878,3900,3870,3890],[3899,3918,3899,3917],[3917,3937,3909,3920],[3919,3942,3913,3940],
[3935,3963,3935,3959],[3956,3977,3944,3963],[3963,3983,3957,3965],[3946,3978,3946,3965],[3968,3986,3954,3969],
[3985,4025,3982,4023],[4025,4084,4024,4083],[4082,4098,4070,4086],[4076,4093,4067,4082],[4085,4121,4084,4120]];

const sensexOHLC = [
[81306,81756,81198,81252],[81306,81740,81295,81631],[81664,81973,81485,81848],[82217,82228,81919,81989],[81946,81973,81268,81285],
[81485,81783,81350,81631],[81377,81431,80672,80764],[80743,80764,80005,80060],[80005,80293,79724,79789],[79805,80385,79789,80347],
[80510,80754,80005,80146],[80276,80656,79984,80564],[81458,81458,80580,80699],[81014,81052,80320,80699],[80905,81160,80726,80764],
[81133,81160,80916,81090],[81501,81631,81230,81415],[81198,81631,81187,81539],[81740,81989,81631,81892],[81919,81989,81718,81783],
[81837,82423,81783,82379],[82488,82732,82477,82694],[83095,83127,82705,83003],[82932,82965,82477,82623],[82135,82569,81989,82163],
[82135,82369,81756,82065],[81919,82043,81593,81702],[81577,81827,81090,81133],[80959,81035,80320,80401],[80580,80835,80239,80347],
[80537,80656,80184,80239],[80168,81068,80157,80981],[80656,81241,80645,81187],[81252,81837,81144,81783],[81865,82298,81783,81935],
[81903,82244,81631,81756],[81881,82228,81664,82173],[82065,82640,82054,82499],[82027,82369,82011,82325],[82390,82553,81783,82027],
[82173,82716,82081,82596],[82786,83615,82770,83453],[83312,84168,83203,83941],[84266,84645,84179,84358],[84482,84656,84287,84428],
[85144,85295,84450,84558],[84656,84699,83962,84195],[84287,84938,84287,84775],[84618,84981,84222,84640],[84645,85089,84629,84992],
[84737,84900,84320,84396],[84374,84699,83897,83908],[83832,84114,83626,83978],[83995,84016,83398,83436],[83518,83745,83220,83301],
[83138,83382,82661,83220],[83192,83734,83182,83545],[83653,83924,83111,83870],[84222,84645,84211,84466],[84537,84927,84249,84466],
[84032,84683,84016,84558],[84683,84981,84591,84954],[85035,85046,84558,84667],[84629,85209,84520,85187],[85458,85794,85198,85642],
[85350,85442,85187,85209],[85333,85469,84710,84900],[85008,85279,84520,84575],[84482,85621,84466,85604],[85751,86054,85480,85713],
[85805,85967,85566,85696],[86065,86146,85496,85621],[85317,85550,85062,85133],[85154,85252,84764,85089],[84981,85496,84954,85263],
[85100,85794,85062,85713],[85621,85659,84873,85089],[84737,84954,84385,84656],[84613,84656,84320,84358],[84439,84900,84157,84818],
[85046,85317,84954,85263],[84884,85263,84829,85209],[85008,85046,84629,84683],[84862,84884,84412,84558],[84520,84558,84233,84482],
[84753,85062,84737,84916],[85144,85588,85133,85577],[85686,85696,85350,85512],[85534,85713,85371,85404],[85225,85371,84938,85024],
[84992,85225,84667,84683],[84591,84791,84466,84683],[84775,85425,84699,85209],[85263,85458,85100,85171],[85252,85821,85062,85767],
[85631,85875,85306,85425],[85317,85388,84900,85062],[84602,85079,84591,84954],[84775,84970,84103,84168],[84016,84396,83398,83561]];

// ---------- TICK LABELS ----------
const nikkeiXLabels   = ['08/13','09/10','10/10','11/11','12/10'];
const usXLabels       = ['08/19','09/17','10/15','11/12','12/11'];
const cryptoXLabels   = ['10/04','10/24','11/13','12/03','12/23'];
const shanghaiXLabels = ['08/13','09/10','10/16','11/13','12/11'];
const sensexXLabels   = ['08/18','09/16','10/15','11/14','12/12'];

const nikkeiYTicks   = [42000,44000,46000,48000,50000,52000];
const dowYTicks      = [45000,46000,47000,48000,49000];
const us10yYTicks    = [3.95,4.00,4.05,4.10,4.15,4.20,4.25,4.30,4.35];
const vixYTicks      = [14,16,18,20,22,24,26,28];
const btcYTicks      = [1.3e7,1.4e7,1.5e7,1.6e7,1.7e7,1.8e7,1.9e7];
const ethYTicks      = [400000,450000,500000,550000,600000,650000,700000];
const wtiYTicks      = [56,58,60,62,64,66];
const goldYTicks     = [3400,3600,3800,4000,4200,4400,4600];
const silverYTicks   = [40,50,60,70,80];
const platinumYTicks = [1400,1600,1800,2000,2200,2400];
const shanghaiYTicks = [3700,3800,3900,4000,4100];
const sensexYTicks   = [80000,81000,82000,83000,84000,85000,86000];

const mainTitle = 'Global Markets & Commodities (Last 100 Days) [2026/01/11]';

const panels = [
  {title:'日経平均株価', ohlc:nikkeiOHLC, xl:nikkeiXLabels, yt:nikkeiYTicks, min:41320, max:53170, fmt:v=>String(v)},
  {title:'NYダウ平均', ohlc:dowOHLC, xl:usXLabels, yt:dowYTicks, min:44338, max:49862, fmt:v=>String(v)},
  {title:'米10年国債利回り', ohlc:us10yOHLC, xl:usXLabels, yt:us10yYTicks, min:3.927, max:4.367, fmt:v=>v.toFixed(2)},
  {title:'VIX指数', ohlc:vixOHLC, xl:usXLabels, yt:vixYTicks, min:12.59, max:29.78, fmt:v=>String(v)},
  {title:'ビットコイン (BTC/JPY)', ohlc:btcOHLC, xl:cryptoXLabels, yt:btcYTicks, min:1.2326e7, max:1.931e7, fmt:v=>(v/1e7).toFixed(1)},
  {title:'イーサリアム (ETH/JPY)', ohlc:ethOHLC, xl:cryptoXLabels, yt:ethYTicks, min:396660, max:732960, fmt:v=>String(v)},
  {title:'WTI原油', ohlc:wtiOHLC, xl:usXLabels, yt:wtiYTicks, min:54.39, max:67.0, fmt:v=>String(v)},
  {title:'金 (Gold)', ohlc:goldOHLC, xl:usXLabels, yt:goldYTicks, min:3246, max:4621, fmt:v=>String(v)},
  {title:'銀 (Silver)', ohlc:silverOHLC, xl:usXLabels, yt:silverYTicks, min:34.94, max:83.14, fmt:v=>String(v)},
  {title:'白金 (Platinum)', ohlc:platinumOHLC, xl:usXLabels, yt:platinumYTicks, min:1243, max:2528, fmt:v=>String(v)},
  {title:'上海総合指数', ohlc:shanghaiOHLC, xl:shanghaiXLabels, yt:shanghaiYTicks, min:3635, max:4145, fmt:v=>String(v)},
  {title:'インド SENSEX', ohlc:sensexOHLC, xl:sensexXLabels, yt:sensexYTicks, min:79415, max:86488, fmt:v=>String(v)}
];

// ---------- LAYOUT / STYLE ----------
const FONT = "'Noto Sans CJK JP','Noto Sans',sans-serif";
const TXT = '#111111';
const UP = '#0000ff', DOWN = '#ff0000';
const colLeft = [95, 999, 1903], GW = 772;
const rowTop = [158, 717, 1277, 1836], GH = 434;
const XMIN = -6.05, XMAX = 105.05, BODY_W = 0.62;

function renderCandle(params, api) {
  const x = api.value(0), o = api.value(1), c = api.value(2), l = api.value(3), h = api.value(4);
  const pO = api.coord([x, o]), pC = api.coord([x, c]), pH = api.coord([x, h]), pL = api.coord([x, l]);
  const bw = api.size([BODY_W, 0])[0];
  const col = c > o ? UP : DOWN;
  let y0 = Math.min(pO[1], pC[1]);
  let bh = Math.abs(pO[1] - pC[1]);
  if (bh < 1.8) { y0 -= (1.8 - bh) / 2; bh = 1.8; }
  return {type:'group', children:[
    {type:'line', shape:{x1:pH[0], y1:pH[1], x2:pL[0], y2:pL[1]}, style:{stroke:col, lineWidth:1.2}},
    {type:'rect', shape:{x:pO[0] - bw/2, y:y0, width:bw, height:bh}, style:{fill:col}}
  ]};
}

const grids = [], xAxes = [], yAxes = [], series = [], graphics = [];
panels.forEach((p, k) => {
  const r = Math.floor(k / 3), cI = k % 3;
  const left = colLeft[cI], top = rowTop[r];
  grids.push({left:left, top:top, width:GW, height:GH, show:true, borderColor:'#1a1a1a', borderWidth:2, backgroundColor:'transparent', containLabel:false});
  xAxes.push({
    type:'value', gridIndex:k, min:XMIN, max:XMAX,
    axisLine:{show:true, onZero:false, lineStyle:{color:'#1a1a1a', width:2}},
    axisTick:{show:true, length:8, lineStyle:{color:'#1a1a1a', width:2}, customValues:[0,20,40,60,80,100]},
    axisLabel:{customValues:[0,20,40,60,80], formatter:(v)=>p.xl[Math.round(v/20)] || '', rotate:15,
      align:'center', verticalAlign:'top', margin:25, fontSize:22, color:TXT, fontFamily:FONT},
    splitLine:{show:false}
  });
  yAxes.push({
    type:'value', gridIndex:k, min:p.min, max:p.max,
    axisLine:{show:true, onZero:false, lineStyle:{color:'#1a1a1a', width:2}},
    axisTick:{show:true, length:8, lineStyle:{color:'#1a1a1a', width:2}, customValues:p.yt},
    axisLabel:{customValues:p.yt, formatter:(v)=>p.fmt(v), margin:14, fontSize:20, color:TXT, fontFamily:FONT},
    splitLine:{show:false}
  });
  series.push({
    type:'custom', xAxisIndex:k, yAxisIndex:k, clip:true,
    renderItem:renderCandle,
    encode:{x:0, y:[1,2,3,4]},
    data:p.ohlc.map((row, i) => [i, row[0], row[3], row[2], row[1]])
  });
  graphics.push({type:'text', x:left + GW/2, y:top - 23,
    style:{text:p.title, fill:TXT, font:'25px ' + FONT, align:'center', verticalAlign:'middle', textAlign:'center', textVerticalAlign:'middle'}});
  if (k === 4) {
    graphics.push({type:'text', x:left, y:top - 6,
      style:{text:'1e7', fill:TXT, font:'20px ' + FONT, align:'left', verticalAlign:'bottom', textAlign:'left', textVerticalAlign:'bottom'}});
  }
});

const chart = echarts.init(document.getElementById('c'), null, {renderer:'canvas', width:2685, height:2336});
chart.setOption({
  animation:false,
  backgroundColor:'#ffffff',
  textStyle:{fontFamily:FONT},
  title:{text:mainTitle, left:'center', top:11, padding:0, textStyle:{fontSize:44, fontWeight:'normal', color:TXT, fontFamily:FONT}},
  grid:grids, xAxis:xAxes, yAxis:yAxes, series:series, graphic:graphics
});
</script></body></html>
